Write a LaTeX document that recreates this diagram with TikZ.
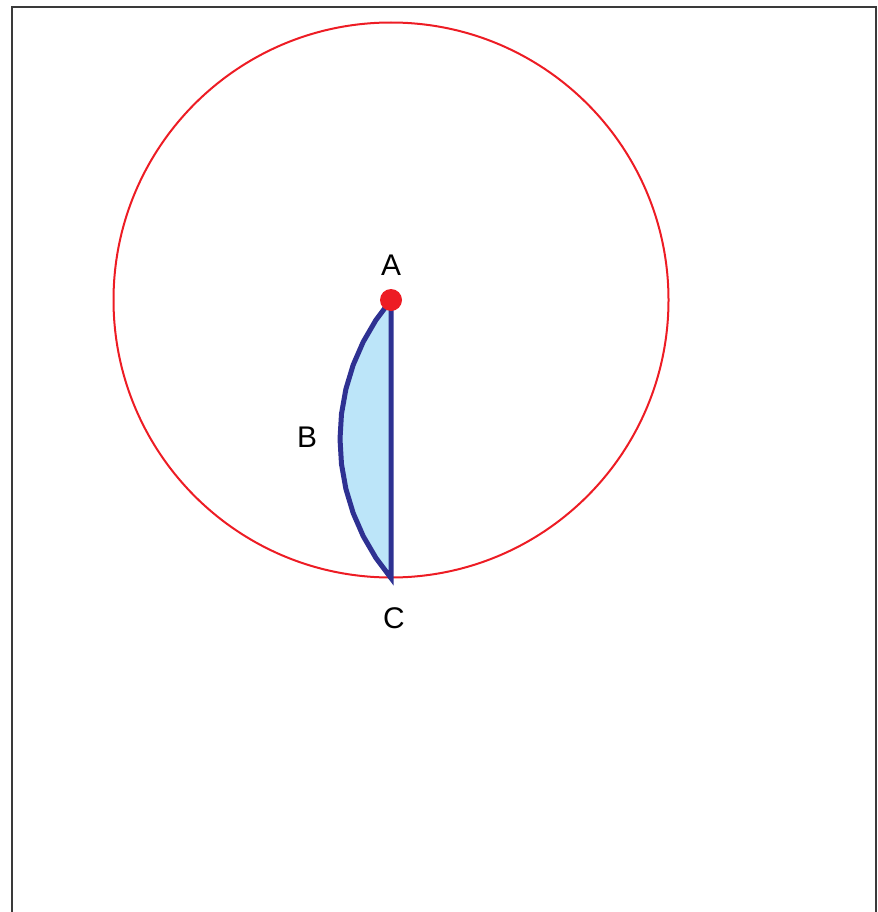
\documentclass[tikz,border=0pt]{standalone}
\usepackage{fontspec}
\setmainfont{Liberation Sans}
\usepackage{xcolor}
\definecolor{circred}{HTML}{ED1C24}
\definecolor{lensblue}{HTML}{2E3192}
\definecolor{lensfill}{HTML}{BCE5F9}
\definecolor{framegray}{HTML}{3A3A3A}

\begin{document}
\begin{tikzpicture}[x=0.2mm, y=-0.2mm, every node/.style={font=\fontsize{17}{20}\selectfont},
    lens/.style={draw=lensblue, fill=lensfill, line width=1mm},
    ring/.style={draw=circred, line width=0.4mm}]
  \useasboundingbox (0,0) rectangle (877,912);
  \draw[framegray, line width=0.5mm] (12,912) -- (12,7) -- (876,7) -- (876,912);
  \coordinate (O) at (391,300);
  \coordinate (A) at (391,300);
  \coordinate (C) at (391,578);
  \draw[ring] (O) circle[radius=277.5];
  \filldraw[lens] plot[domain=220.3:139.7, samples=13] ({555+215*cos(\x)},{439+215*sin(\x)}) -- (A) -- cycle;
  \fill[circred] (A) circle[radius=11];
  \node (labA) at (391,265) {A};
  \node (labB) at (307,437) {B};
  \node (labC) at (394,618) {C};
\end{tikzpicture}
\end{document}
